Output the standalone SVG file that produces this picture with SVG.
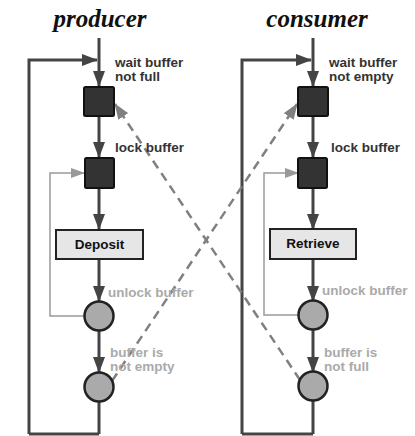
<svg xmlns="http://www.w3.org/2000/svg" width="415" height="436" viewBox="0 0 415 436">
<style>
.title{font-family:"Liberation Serif",serif;font-weight:bold;font-style:italic;font-size:25px;fill:#111;text-anchor:middle}
.lbl{font-family:"Liberation Sans",Arial,sans-serif;font-weight:bold;font-size:13.5px;fill:#333}
.lbl2{font-family:"Liberation Sans",Arial,sans-serif;font-weight:bold;font-size:13.5px;fill:#aaa}
.box{font-family:"Liberation Sans",Arial,sans-serif;font-weight:bold;font-size:13.5px;fill:#111;text-anchor:middle}
.sq{fill:#333;stroke:#111;stroke-width:2}
.act{fill:#e6e6e6;stroke:#222;stroke-width:2}
.circ{fill:#aaa;stroke:#222;stroke-width:2.5}
.main{fill:none;stroke:#444;stroke-width:3}
.fb{fill:none;stroke:#999;stroke-width:1.5}
.dash{fill:none;stroke:#808080;stroke-width:2.5;stroke-dasharray:9 6}
</style>
<defs>
<marker id="ah" markerUnits="userSpaceOnUse" markerWidth="16" markerHeight="12" refX="15" refY="6" orient="auto"><path d="M0,0 L16,6 L0,12 z" fill="#444"/></marker>
<marker id="ahg" markerUnits="userSpaceOnUse" markerWidth="14" markerHeight="10" refX="13" refY="5" orient="auto"><path d="M0,0 L14,5 L0,10 z" fill="#999"/></marker>
<marker id="ahd" markerUnits="userSpaceOnUse" markerWidth="16" markerHeight="12" refX="15" refY="6" orient="auto"><path d="M0,0 L16,6 L0,12 z" fill="#808080"/></marker>
</defs>
<rect width="415" height="436" fill="#fff"/>
<text class="title" x="100" y="27">producer</text>
<text class="title" x="317" y="27">consumer</text>
<g id="connectors">
<path class="main" d="M99,38 V86" marker-end="url(#ah)"/>
<path class="main" d="M99,434 V401 M29,434 H99 M29,434 V60 H97" marker-end="url(#ah)"/>
<path class="main" d="M99,116 V157" marker-end="url(#ah)"/>
<path class="main" d="M99,188 V229" marker-end="url(#ah)"/>
<path class="main" d="M99,259 V301" marker-end="url(#ah)"/>
<path class="main" d="M99,330 V372" marker-end="url(#ah)"/>
<path class="fb" d="M84,316 H50 V173 H84" marker-end="url(#ahg)"/>
<path class="main" d="M313,38 V86" marker-end="url(#ah)"/>
<path class="main" d="M313,434 V401 M242,434 H313 M242,434 V60 H311" marker-end="url(#ah)"/>
<path class="main" d="M313,116 V157" marker-end="url(#ah)"/>
<path class="main" d="M313,188 V229" marker-end="url(#ah)"/>
<path class="main" d="M313,259 V301" marker-end="url(#ah)"/>
<path class="main" d="M313,330 V372" marker-end="url(#ah)"/>
<path class="fb" d="M298,315 H264 V173 H298" marker-end="url(#ahg)"/>
<path class="dash" d="M112,381 L297,104" marker-end="url(#ahd)"/>
<path class="dash" d="M300,380 L115,104" marker-end="url(#ahd)"/>
</g>
<g id="p-wait"><rect class="sq" x="84" y="87" width="30" height="29" rx="1.5"/><text class="lbl" x="115" y="67">wait buffer</text><text class="lbl" x="115" y="81">not full</text></g>
<g id="p-lock"><rect class="sq" x="85" y="158" width="29" height="30" rx="1.5"/><text class="lbl" x="115" y="152">lock buffer</text></g>
<g id="p-deposit"><rect class="act" x="56" y="230" width="87" height="29"/><text class="box" x="99.5" y="249">Deposit</text></g>
<g id="p-unlock"><circle class="circ" cx="99" cy="316" r="14.5"/><text class="lbl2" x="108" y="297">unlock buffer</text></g>
<g id="p-notempty"><circle class="circ" cx="99" cy="387" r="14.5"/><text class="lbl2" x="110" y="357">buffer is</text><text class="lbl2" x="110" y="371">not empty</text></g>
<g id="c-wait"><rect class="sq" x="298" y="87" width="30" height="29" rx="1.5"/><text class="lbl" x="329" y="67">wait buffer</text><text class="lbl" x="329" y="81">not empty</text></g>
<g id="c-lock"><rect class="sq" x="298" y="158" width="29" height="30" rx="1.5"/><text class="lbl" x="331" y="152">lock buffer</text></g>
<g id="c-retrieve"><rect class="act" x="270" y="229" width="86" height="30"/><text class="box" x="313" y="248">Retrieve</text></g>
<g id="c-unlock"><circle class="circ" cx="313" cy="315" r="14.5"/><text class="lbl2" x="322" y="295">unlock buffer</text></g>
<g id="c-notfull"><circle class="circ" cx="313" cy="386" r="14.5"/><text class="lbl2" x="324" y="357">buffer is</text><text class="lbl2" x="324" y="371">not full</text></g>
</svg>
